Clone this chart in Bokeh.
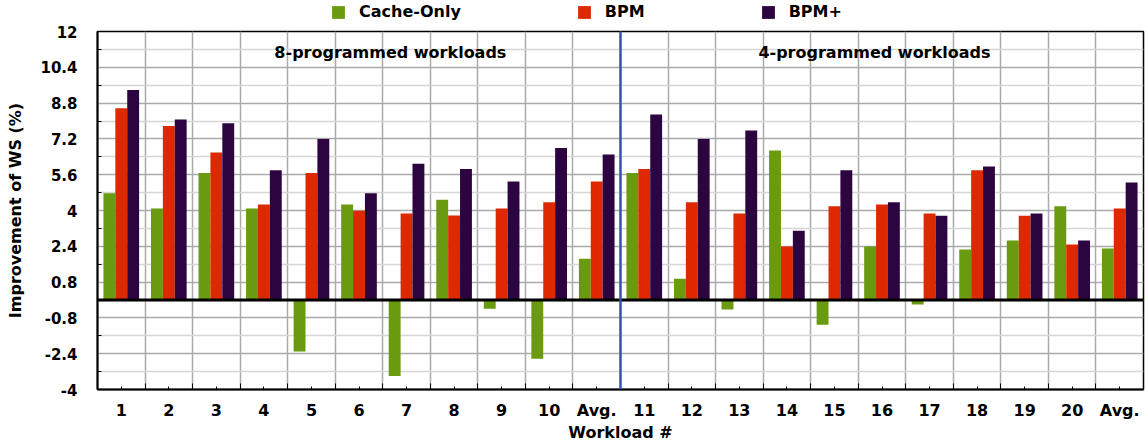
from bokeh.plotting import figure
from bokeh.layouts import column
from bokeh.models import (FixedTicker, Span, Label, Legend, LegendItem, ColumnDataSource,
                          CustomJSTickFormatter)
from bokeh.transform import dodge
from bokeh.embed import file_html
from bokeh.resources import INLINE

workloads = ["1", "2", "3", "4", "5", "6", "7", "8", "9", "10", "Avg.",
             "11", "12", "13", "14", "15", "16", "17", "18", "19", "20", "Avg."]
cache_only = [4.77, 4.09, 5.68, 4.09, -2.30, 4.27, -3.40, 4.48, -0.39, -2.63, 1.84,
              5.68, 0.95, -0.42, 6.68, -1.11, 2.39, -0.20, 2.26, 2.66, 4.19, 2.30]
bpm = [8.57, 7.78, 6.59, 4.27, 5.68, 3.99, 3.87, 3.78, 4.09, 4.37, 5.30,
       5.86, 4.37, 3.87, 2.39, 4.19, 4.27, 3.87, 5.80, 3.76, 2.48, 4.09]
bpm_plus = [9.39, 8.07, 7.90, 5.80, 7.19, 4.77, 6.09, 5.86, 5.30, 6.79, 6.50,
            8.29, 7.19, 7.58, 3.09, 5.80, 4.37, 3.76, 5.97, 3.87, 2.66, 5.25]
series_names = ["Cache-Only", "BPM", "BPM+"]
series_colors = ["#6a9a10", "#dd2800", "#2c0440"]
y_ticks = [-4, -2.4, -0.8, 0.8, 2.4, 4, 5.6, 7.2, 8.8, 10.4, 12]
y_minor = [-3.2, -1.6, 0, 1.6, 3.2, 4.8, 6.4, 8.0, 9.6, 11.2]
section_labels = ["8-programmed workloads", "4-programmed workloads"]
section_label_x = [5.66, 15.84]
section_label_y = 11.06
divider_x = 10.5

FONT = "DejaVu Sans"
n = len(workloads)
xs = list(range(n))
src = ColumnDataSource(dict(x=xs, c=cache_only, b=bpm, p=bpm_plus))
cols = ["c", "b", "p"]
offsets = [-0.25, 0.0, 0.25]

# ---- legend strip (separate figure so the legend sits above the plot frame) ----
LEG_H = 24
lf = figure(width=1146, height=LEG_H, x_range=(-0.5, n - 0.5), y_range=(50, 51),
            x_axis_type=None, y_axis_type=None, title=None,
            min_border_left=0, min_border_right=0, min_border_top=0, min_border_bottom=0,
            output_backend="svg", toolbar_location=None)
lf.outline_line_color = None
lf.xgrid.visible = False
lf.ygrid.visible = False
leg_r = [lf.vbar(x=dodge("x", off), top=c, width=0.25, source=src, color=col, line_color=None)
         for c, off, col in zip(cols, offsets, series_colors)]
legend = Legend(items=[LegendItem(label=nm, renderers=[r]) for nm, r in zip(series_names, leg_r)],
                orientation="horizontal", location=(233, 3), spacing=115,
                glyph_width=16, glyph_height=16, label_standoff=13,
                padding=0, margin=0, border_line_color=None, background_fill_alpha=0,
                label_text_font=FONT, label_text_font_style="bold",
                label_text_font_size="16px", label_text_color="black")
lf.add_layout(legend)

# ---- main chart ----
p = figure(width=1146, height=444 - LEG_H, x_range=(-0.5, n - 0.5), y_range=(-4, 12),
           title=None,
           min_border_left=97, min_border_right=3, min_border_top=31 - LEG_H, min_border_bottom=55,
           output_backend="svg", toolbar_location=None)
p.outline_line_color = "black"
p.outline_line_width = 1.5

for c, off, col in zip(cols, offsets, series_colors):
    p.vbar(x=dodge("x", off), top=c, width=0.25, source=src, color=col, line_color=None)

# grids
p.ygrid.ticker = FixedTicker(ticks=y_ticks, minor_ticks=y_minor)
p.ygrid.grid_line_color = "#aaaaaa"
p.ygrid.grid_line_width = 1.5
p.ygrid.minor_grid_line_color = "#d6d6d6"
p.ygrid.minor_grid_line_width = 1.5
p.ygrid.level = "underlay"
boundaries = [i - 0.5 for i in range(n + 1)]
p.xgrid.ticker = FixedTicker(ticks=boundaries)
p.xgrid.grid_line_color = "#aaaaaa"
p.xgrid.grid_line_width = 1.5
p.xgrid.level = "underlay"

# axes
p.yaxis.ticker = FixedTicker(ticks=y_ticks, minor_ticks=y_minor)
p.yaxis.formatter = CustomJSTickFormatter(code="return String(Math.round(tick*10)/10);")
p.xaxis.ticker = FixedTicker(ticks=xs, minor_ticks=boundaries)
p.xaxis.formatter = CustomJSTickFormatter(args=dict(labels=workloads),
                                          code="return labels[Math.round(tick)];")
for ax in (p.xaxis[0], p.yaxis[0]):
    ax.axis_line_color = "black"
    ax.axis_line_width = 2
    ax.major_tick_out = 0
    ax.minor_tick_out = 0
    ax.major_tick_line_color = "black"
    ax.minor_tick_line_color = "black"
    ax.major_label_text_font = FONT
    ax.major_label_text_font_style = "bold"
    ax.major_label_text_color = "black"
    ax.axis_label_text_font = FONT
    ax.axis_label_text_font_style = "bold"
    ax.axis_label_text_color = "black"
    ax.axis_label_text_font_size = "16px"
p.xaxis.major_tick_in = 3
p.xaxis.minor_tick_in = 6
p.yaxis.major_tick_in = 0
p.yaxis.minor_tick_in = 4
p.xaxis.major_label_text_font_size = "16px"
p.yaxis.major_label_text_font_size = "15px"
p.xaxis.major_label_standoff = 11
p.yaxis.major_label_standoff = 20
p.xaxis.axis_label = "Workload #"
p.xaxis.axis_label_standoff = 0
p.yaxis.axis_label = "Improvement of WS (%)"
p.yaxis.axis_label_standoff = 12

p.add_layout(Span(location=0, dimension="width", line_color="black", line_width=3))
p.add_layout(Span(location=divider_x, dimension="height", line_color="#3a4fc4", line_width=2.5))

for txt, lx in zip(section_labels, section_label_x):
    p.add_layout(Label(x=lx, y=section_label_y, text=txt, text_align="center",
                       text_baseline="middle", text_font=FONT, text_font_style="bold",
                       text_font_size="16px", text_color="black"))

layout = column(lf, p, spacing=0)
open("out.html", "w").write(file_html(layout, INLINE))
